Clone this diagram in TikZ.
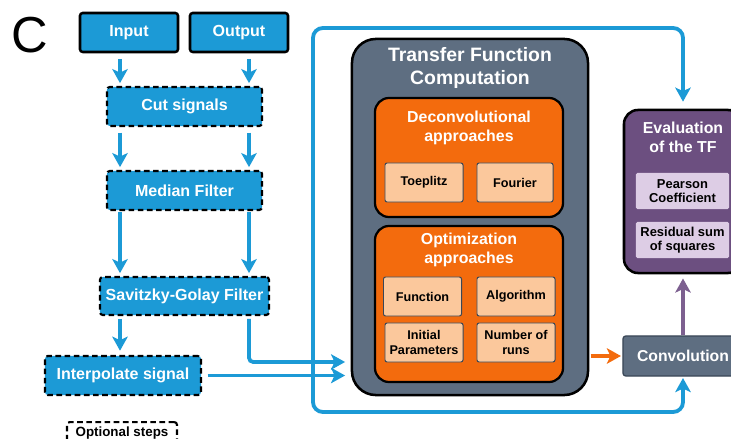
\documentclass[tikz,border=0pt]{standalone}
\usepackage{fontspec}
\setmainfont{Liberation Sans}
\usetikzlibrary{arrows.meta}

\definecolor{sigblue}{HTML}{1C9AD6}
\definecolor{slate}{HTML}{5E6E81}
\definecolor{slatedark}{HTML}{3A4757}
\definecolor{orng}{HTML}{F36B0D}
\definecolor{orngpale}{HTML}{FBC89C}
\definecolor{plum}{HTML}{6C4F80}
\definecolor{plumpale}{HTML}{DDCDE5}
\definecolor{plumline}{HTML}{7D6090}

\begin{document}
\begin{tikzpicture}[
    x=0.025cm, y=-0.025cm,
    >={Stealth[length=10pt,width=11pt,inset=2.5pt]},
    % signal preprocessing boxes
    sigbox/.style={draw=black, line width=1.8pt, fill=sigblue, text=white,
      rounded corners=2pt, inner sep=0pt, minimum width=2.45cm,
      minimum height=0.975cm, font=\fontsize{11.4}{13}\selectfont\bfseries},
    optbox/.style={sigbox, line width=1.5pt, dash pattern=on 4pt off 2.5pt},
    % transfer function blocks
    tfbox/.style={draw=black, line width=1.8pt, fill=slate,
      rounded corners=17pt, minimum width=5.9cm, minimum height=8.9cm},
    apbox/.style={draw=black, line width=1.6pt, fill=orng,
      rounded corners=10pt, minimum width=4.7cm},
    itembox/.style={draw=slatedark, line width=0.7pt, fill=orngpale,
      rounded corners=1.5pt, inner sep=0pt, minimum width=1.95cm,
      minimum height=0.975cm, align=center,
      font=\fontsize{9}{10.8}\selectfont\bfseries},
    boxtitle/.style={text=white, align=center,
      font=\fontsize{11.3}{13.6}\selectfont\bfseries},
    % evaluation blocks
    evalbox/.style={draw=black, line width=1.8pt, fill=plum,
      rounded corners=10pt, minimum width=2.95cm, minimum height=4.075cm},
    evitem/.style={fill=plumpale, rounded corners=1pt, inner sep=0pt,
      minimum width=2.325cm, minimum height=0.9cm, align=center,
      font=\fontsize{9.2}{10.4}\selectfont\bfseries},
    convbox/.style={draw=slatedark, line width=0.9pt, fill=slate,
      text=white, rounded corners=2pt, minimum width=3cm,
      minimum height=1cm, font=\fontsize{11.2}{13}\selectfont\bfseries},
    % connectors
    flow/.style={draw=sigblue, line width=2.7pt, ->},
    oflow/.style={draw=orng, line width=2.7pt, ->},
    pflow/.style={draw=plumline, line width=2.7pt, ->},
  ]
  \clip (0,0) rectangle (731,439);

  % Panel letter
  \node[font=\fontsize{36}{38}\selectfont] (panel) at (30,35) {C};

  % Signal preprocessing
  \node[sigbox] (input)  at (129,32.5) {Input};
  \node[sigbox] (output) at (239,32.5) {Output};
  \node[optbox, minimum width=3.875cm] (cut)    at (184.5,106.5) {Cut signals};
  \node[optbox, minimum width=3.875cm] (median) at (184.5,190.5) {Median Filter};
  \node[optbox, minimum width=4.225cm, minimum height=0.95cm] (sgolay) at (184.5,296) {Savitzky-Golay Filter};
  \node[optbox, minimum width=3.9cm] (interp) at (123,375.5) {Interpolate signal};

  % Legend
  \node[optbox, fill=none, text=black, anchor=north, minimum height=0pt,
    minimum width=2.75cm, inner ysep=3pt, text height=7pt, text depth=10pt,
    font=\fontsize{9.5}{11}\selectfont\bfseries] (legend) at (122,421) {Optional steps};

  % Transfer function computation
  \node[tfbox] (tf) at (470,217) {};
  \node[boxtitle, font=\fontsize{13.8}{16.5}\selectfont\bfseries] (tfT) at (470,68) {Transfer Function\\Computation};
  \node[apbox, minimum height=2.975cm] (decon) at (469,157.5) {};
  \node[boxtitle] (deconT) at (469,127.5) {Deconvolutional\\approaches};
  \node[itembox] (toeplitz) at (424,182.5) {Toeplitz};
  \node[itembox, minimum width=1.9cm] (fourier) at (515,182.5) {Fourier};
  \node[apbox, minimum height=3.9cm] (optim) at (469,304) {};
  \node[boxtitle] (optimT) at (469,249.5) {Optimization\\approaches};
  \node[itembox] (func) at (422.5,296.5) {Function};
  \node[itembox] (algo) at (516,296.5) {Algorithm};
  \node[itembox] (init) at (424,342.5) {Initial\\Parameters};
  \node[itembox] (runs) at (516,342.5) {Number of\\runs};

  % Convolution and evaluation
  \node[convbox] (conv) at (683,356) {Convolution};
  \node[evalbox] (eval) at (683,191.5) {};
  \node[boxtitle] (evalT) at (683,137.5) {Evaluation\\of the TF};
  \node[evitem] (pearson)  at (682.5,191) {Pearson\\Coefficient};
  \node[evitem] (residual) at (682.5,240) {Residual sum\\of squares};

  % Helper coordinates
  \coordinate (colL) at (120,0);
  \coordinate (colR) at (249,0);
  \coordinate (rowA) at (0,362);
  \coordinate (loopT) at (313,28);
  \coordinate (loopB) at (313,412);

  % Preprocessing arrows
  \foreach \c in {colL,colR}{
    \draw[flow, shorten <=4pt, shorten >=2pt] (\c |- input.south) -- (\c |- cut.north);
    \draw[flow, shorten <=4pt, shorten >=2pt] (\c |- cut.south) -- (\c |- median.north);
    \draw[flow, shorten <=1pt, shorten >=2pt] (\c |- median.south) -- (\c |- sgolay.north);
  }
  \draw[flow, shorten <=2pt, shorten >=3pt] (colL |- sgolay.south) -- (colL |- interp.north);
  \draw[flow, rounded corners=3pt, shorten <=2pt, shorten >=4pt] (colR |- sgolay.south) |- (tf.west |- rowA);
  \draw[flow, shorten <=4pt, shorten >=4pt] (interp.east) -- (interp.east -| tf.west);

  % Signals to convolution and evaluation
  \draw[flow, <->, rounded corners=7pt, shorten <=5pt, shorten >=1pt]
    (eval.north) |- (loopT) -- (loopB) -| (conv.south);

  % TF to convolution to evaluation
  \draw[oflow, shorten <=1pt, shorten >=1pt] (conv.west -| tf.east) -- (conv.west);
  \draw[pflow, shorten >=3pt] (conv.north) -- (eval.south);
\end{tikzpicture}
\end{document}
